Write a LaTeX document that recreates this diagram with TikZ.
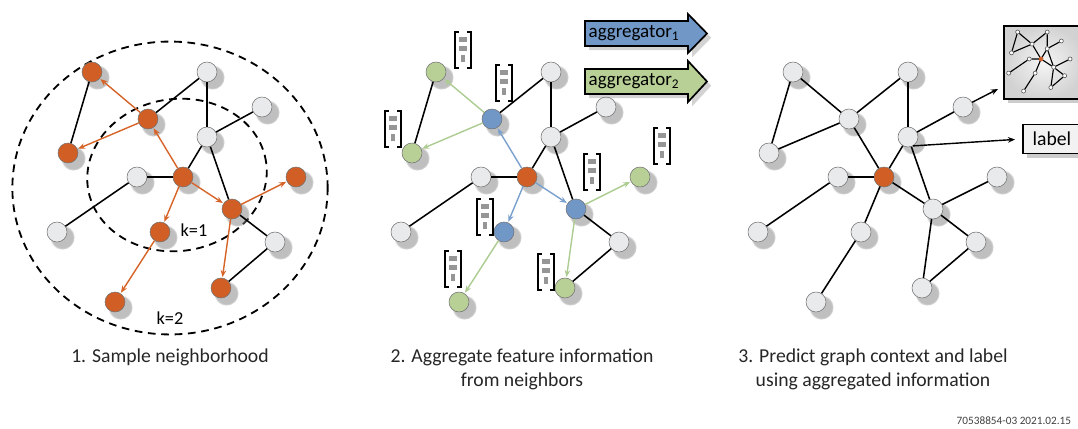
\documentclass[tikz,border=0pt]{standalone}
\usepackage{fontspec}
\setmainfont{Carlito}
\usetikzlibrary{shadows,arrows.meta}

\definecolor{nodeorange}{RGB}{209,94,36}
\definecolor{nodegray}{RGB}{233,234,236}
\definecolor{nodeblue}{RGB}{112,151,198}
\definecolor{nodegreen}{RGB}{184,208,150}
\definecolor{linkorange}{RGB}{214,100,40}
\definecolor{linkblue}{RGB}{122,160,205}
\definecolor{linkgreen}{RGB}{172,204,146}
\definecolor{featgray}{RGB}{150,150,150}

\begin{document}
\begin{tikzpicture}[
    x=0.025cm,
    y=-0.025cm,
    gnode/.style={circle, draw=black!55, line width=0.4pt, minimum size=0.5cm, inner sep=0pt, fill=nodegray,
        circular drop shadow={shadow xshift=3pt, shadow yshift=-3pt, shadow scale=1.25, opacity=0.5}},
    onode/.style={gnode, fill=nodeorange},
    bnode/.style={gnode, fill=nodeblue},
    lnode/.style={gnode, fill=nodegreen},
    mnode/.style={circle, draw=black!70, line width=0.4pt, fill=white, minimum size=0.1cm, inner sep=0pt},
    edge/.style={line width=1.1pt},
    hop/.style={line width=1.3pt, dash pattern=on 5.5pt off 4pt},
    oarrow/.style={line width=1pt, draw=linkorange, -{Stealth[length=5pt,width=4pt]}, shorten >=0.5pt},
    barrow/.style={oarrow, draw=linkblue},
    larrow/.style={oarrow, draw=linkgreen},
    karrow/.style={line width=1pt, -{Stealth[length=5pt,width=4pt]}},
    caption/.style={font=\fontsize{14}{17}\selectfont, text=black!85, align=center},
    feat/.pic={
        \draw[line width=1.3pt] (-4,-18) -- (-8,-18) -- (-8,18) -- (-4,18);
        \draw[line width=1.3pt] (4,-18) -- (8,-18) -- (8,18) -- (4,18);
        \fill[featgray] (-4,-13) rectangle (4,-8);
        \fill[featgray] (-4,-4) rectangle (4,1);
        \fill[featgray] (-2,5) rectangle (2,12);
    },
]

\useasboundingbox (0,0) rectangle (1078,428);

% ---------- 1. Sample neighborhood ----------

% Hops
\draw[hop] (170,188) ellipse (3.94cm and 3.66cm);
\draw[hop, rotate around={8:(177,175)}] (177,175) ellipse (2.25cm and 1.9cm);
\node[font=\fontsize{13}{15}\selectfont] (k1) at (194,230) {k=1};
\node[font=\fontsize{13}{15}\selectfont] (k2) at (170,318) {k=2};

% Vertices
\node[onode] (a1) at (92,72) {};
\node[gnode] (a2) at (207,72) {};
\node[onode] (a3) at (148,119) {};
\node[gnode] (a4) at (262,107) {};
\node[gnode] (a5) at (207,137) {};
\node[onode] (a6) at (68,153) {};
\node[gnode] (a7) at (137,177) {};
\node[onode] (a8) at (183,177) {};
\node[onode] (a9) at (296,177) {};
\node[onode] (a10) at (232,209) {};
\node[gnode] (a11) at (57,232) {};
\node[onode] (a12) at (160,232) {};
\node[gnode] (a13) at (275,242) {};
\node[onode] (a14) at (221,288) {};
\node[onode] (a15) at (115,302) {};

% Edges
\draw[edge] (a1) -- (a6);
\draw[edge] (a3) -- (a2);
\draw[edge] (a2) -- (a5);
\draw[edge] (a5) -- (a4);
\draw[edge] (a5) -- (a8);
\draw[edge] (a5) -- (a10);
\draw[edge] (a10) -- (a13);
\draw[edge] (a7) -- (a8);
\draw[edge] (a7) -- (a11);
\draw[edge] (a13) -- (a14);

% Sampled hops
\draw[oarrow] (a8) -- (a3);
\draw[oarrow] (a3) -- (a1);
\draw[oarrow] (a3) -- (a6);
\draw[oarrow] (a8) -- (a12);
\draw[oarrow] (a8) -- (a10);
\draw[oarrow] (a10) -- (a9);
\draw[oarrow] (a10) -- (a14);
\draw[oarrow] (a12) -- (a15);

\node[caption] (cap1) at (170,357) {1. Sample neighborhood};

% ---------- 2. Aggregate ----------
\begin{scope}[shift={(344,0)}]

% Vertices
\node[lnode] (b1) at (92,72) {};
\node[gnode] (b2) at (207,72) {};
\node[bnode] (b3) at (148,119) {};
\node[gnode] (b4) at (262,107) {};
\node[gnode] (b5) at (207,137) {};
\node[lnode] (b6) at (68,153) {};
\node[gnode] (b7) at (137,177) {};
\node[onode] (b8) at (183,177) {};
\node[lnode] (b9) at (296,177) {};
\node[bnode] (b10) at (232,209) {};
\node[gnode] (b11) at (57,232) {};
\node[bnode] (b12) at (160,232) {};
\node[gnode] (b13) at (275,242) {};
\node[lnode] (b14) at (221,288) {};
\node[lnode] (b15) at (115,302) {};

% Edges
\draw[edge] (b1) -- (b6);
\draw[edge] (b3) -- (b2);
\draw[edge] (b2) -- (b5);
\draw[edge] (b5) -- (b4);
\draw[edge] (b5) -- (b8);
\draw[edge] (b5) -- (b10);
\draw[edge] (b10) -- (b13);
\draw[edge] (b7) -- (b8);
\draw[edge] (b7) -- (b11);
\draw[edge] (b13) -- (b14);

% First and second aggregation
\draw[barrow] (b8) -- (b3);
\draw[barrow] (b8) -- (b12);
\draw[barrow] (b8) -- (b10);
\draw[larrow] (b3) -- (b1);
\draw[larrow] (b3) -- (b6);
\draw[larrow] (b12) -- (b15);
\draw[larrow] (b10) -- (b9);
\draw[larrow] (b10) -- (b14);

\end{scope}

% Feature vectors
\pic at (463,50) {feat};
\pic at (504,83) {feat};
\pic at (393,129) {feat};
\pic at (662,146) {feat};
\pic at (592,172) {feat};
\pic at (485,217) {feat};
\pic at (453,269) {feat};
\pic at (546,272) {feat};

% Aggregators
\draw[fill=nodeblue, line width=1.2pt, drop shadow={opacity=0.35, shadow xshift=3pt, shadow yshift=-3pt}]
    (585,21) -- (688,21) -- (688,14) -- (707,33.5) -- (688,53) -- (688,46) -- (585,46) -- cycle;
\draw[fill=nodegreen, line width=1.2pt, drop shadow={opacity=0.35, shadow xshift=3pt, shadow yshift=-3pt}]
    (585,69) -- (688,69) -- (688,61) -- (707,81.5) -- (688,102) -- (688,94) -- (585,94) -- cycle;
\node[font=\fontsize{13.5}{16}\selectfont] (agg1) at (634,33.5) {aggregator\textsubscript{1}};
\node[font=\fontsize{13.5}{16}\selectfont] (agg2) at (634,81.5) {aggregator\textsubscript{2}};

\node[caption] (cap2) at (522,369) {2. Aggregate feature information\\from neighbors};

% ---------- 3. Predict ----------
\begin{scope}[shift={(701,0)}]

% Vertices
\node[gnode] (c1) at (92,72) {};
\node[gnode] (c2) at (207,72) {};
\node[gnode] (c3) at (148,119) {};
\node[gnode] (c4) at (262,107) {};
\node[gnode] (c5) at (207,137) {};
\node[gnode] (c6) at (68,153) {};
\node[gnode] (c7) at (137,177) {};
\node[onode] (c8) at (183,177) {};
\node[gnode] (c9) at (296,177) {};
\node[gnode] (c10) at (232,209) {};
\node[gnode] (c11) at (57,232) {};
\node[gnode] (c12) at (160,232) {};
\node[gnode] (c13) at (275,242) {};
\node[gnode] (c14) at (221,288) {};
\node[gnode] (c15) at (115,302) {};

% Edges
\draw[edge] (c1) -- (c6);
\draw[edge] (c1) -- (c3);
\draw[edge] (c3) -- (c6);
\draw[edge] (c3) -- (c2);
\draw[edge] (c3) -- (c8);
\draw[edge] (c2) -- (c5);
\draw[edge] (c5) -- (c4);
\draw[edge] (c5) -- (c8);
\draw[edge] (c5) -- (c10);
\draw[edge] (c8) -- (c10);
\draw[edge] (c8) -- (c12);
\draw[edge] (c12) -- (c15);
\draw[edge] (c7) -- (c8);
\draw[edge] (c7) -- (c11);
\draw[edge] (c10) -- (c9);
\draw[edge] (c10) -- (c13);
\draw[edge] (c10) -- (c14);
\draw[edge] (c13) -- (c14);

\end{scope}

% Graph context box
\node[draw, line width=1.4pt, anchor=north west, minimum width=2cm, minimum height=1.825cm,
    inner color=gray!8, outer color=gray!35, drop shadow={opacity=0.4, shadow xshift=3pt, shadow yshift=-3pt}]
    (ctx) at (1003,25) {};
\begin{scope}[shift={(994,13.5)}, scale=0.257]
\node[mnode] (m1) at (92,72) {};
\node[mnode] (m2) at (207,72) {};
\node[mnode] (m3) at (148,119) {};
\node[mnode] (m4) at (262,107) {};
\node[mnode] (m5) at (207,137) {};
\node[mnode] (m6) at (68,153) {};
\node[mnode] (m7) at (137,177) {};
\node[mnode, fill=nodeorange, draw=nodeorange] (m8) at (183,177) {};
\node[mnode] (m9) at (296,177) {};
\node[mnode] (m10) at (232,209) {};
\node[mnode] (m11) at (57,232) {};
\node[mnode] (m12) at (160,232) {};
\node[mnode] (m13) at (275,242) {};
\node[mnode] (m14) at (221,288) {};
\node[mnode] (m15) at (115,302) {};
\draw[line width=0.8pt] (m1) -- (m6) (m1) -- (m3) (m3) -- (m6) (m3) -- (m2) (m3) -- (m8)
    (m2) -- (m5) (m5) -- (m4) (m5) -- (m8) (m5) -- (m10) (m8) -- (m10) (m8) -- (m12)
    (m12) -- (m15) (m7) -- (m8) (m7) -- (m11) (m10) -- (m9) (m10) -- (m13) (m10) -- (m14)
    (m13) -- (m14);
\end{scope}

% Label box
\node[draw, line width=1.2pt, anchor=west, minimum width=1.45cm, minimum height=0.72cm,
    fill=gray!10, font=\fontsize{14}{16}\selectfont, drop shadow={opacity=0.4, shadow xshift=3pt, shadow yshift=-3pt}]
    (lbl) at (1022,139) {label};

% Outputs
\coordinate (ctxin) at (998,89);
\draw[karrow] (c4) -- (ctxin);
\draw[karrow, shorten >=5pt] (c5.-60) -- (lbl.west);

\node[caption] (cap3) at (873,369) {3. Predict graph context and label\\using aggregated information};

% Footer
\node[anchor=east, font=\fontsize{8}{9}\selectfont, text=black!75] (stamp) at (1076,421) {70538854-03 2021.02.15};

\end{tikzpicture}
\end{document}
